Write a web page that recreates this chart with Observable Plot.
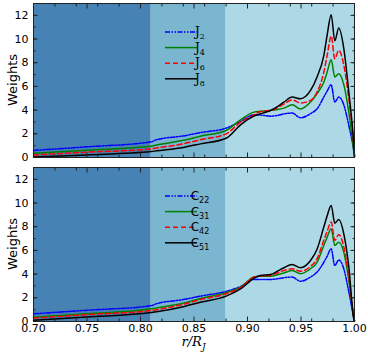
<!DOCTYPE html>
<html><head><meta charset="utf-8">
<script src="https://cdn.jsdelivr.net/npm/d3@7"></script>
<script src="https://cdn.jsdelivr.net/npm/@observablehq/plot@0.6"></script>
<style>
body{margin:0;background:#fff;font-family:"DejaVu Sans",sans-serif}
#wrap{position:relative;width:368px;height:352px}
#wrap svg{display:block;overflow:visible}
#xlab{position:absolute;left:0;width:368px;top:335px;text-align:center;font-family:"DejaVu Serif",serif;font-style:italic;font-size:13px;padding-left:19px;box-sizing:border-box;line-height:14px}
#xlab sub{font-size:9px;line-height:0}
</style>
</head><body><div id="wrap"></div>
<script>
// radius grid (r / R_J)
const rGrid = [0.70,0.75,0.81,0.815,0.84,0.856,0.88,0.8935,0.906,0.912,0.9215,0.928,0.934,0.9418,0.9495,0.9589,0.965,0.9713,0.9744,0.9782,0.9816,0.9853,0.99,0.9947,0.9994,1.0];
// top panel: zonal harmonics
const J2 = [0.6,0.9,1.32,1.5,1.82,2.1,2.48,3.04,3.6,3.58,3.49,3.55,3.68,3.75,3.35,3.7,4.1,5.1,5.6,6.14,4.68,5.1,4.45,2.7,0.5,0.1];
const J4 = [0.36,0.62,0.95,1.05,1.45,1.8,2.28,3.18,3.83,3.89,3.97,4.05,4.17,4.45,4.1,4.68,5.4,6.36,7.2,8.25,6.8,7.07,6.15,3.8,0.5,0.1];
const J6 = [0.22,0.45,0.73,0.8,1.16,1.5,2.0,2.98,3.6,3.89,3.97,4.2,4.5,4.87,4.6,4.82,5.52,7.2,8.6,10.25,8.34,9.05,7.8,4.96,0.9,0.1];
const J8 = [0.05,0.22,0.5,0.56,0.85,1.15,1.63,2.76,3.5,3.69,3.97,4.3,4.67,5.1,4.96,5.66,6.8,8.6,10.3,12.06,9.85,10.93,9.2,5.5,1.0,0.1];
// bottom panel: tesseral harmonics
const C22 = [0.65,0.95,1.33,1.5,1.85,2.14,2.54,2.95,3.55,3.55,3.55,3.6,3.7,3.75,3.4,3.75,4.17,5.0,5.5,6.14,4.73,5.2,4.45,2.5,0.3,0.05];
const C31 = [0.36,0.65,1.07,1.15,1.55,1.95,2.42,2.9,3.75,3.83,3.83,3.95,4.1,4.3,4.03,4.45,5.0,6.42,7.1,7.83,6.42,6.7,5.86,3.47,0.3,0.05];
const C42 = [0.3,0.58,0.93,1.0,1.45,1.85,2.34,2.85,3.75,3.83,3.89,4.1,4.3,4.45,4.25,4.65,5.3,6.85,7.6,8.4,6.85,7.35,6.3,3.75,0.3,0.05];
const C51 = [0.1,0.38,0.76,0.82,1.25,1.62,2.14,2.75,3.65,3.89,3.97,4.25,4.54,4.82,4.54,5.15,6.1,7.97,8.9,9.8,8.3,8.6,7.4,4.6,0.2,0.05];

const topNames = ["J2","J4","J6","J8"];
const topSubs = ["2","4","6","8"];
const botNames = ["C22","C31","C42","C51"];
const botSubs = ["22","31","42","51"];
const seriesColors = ["#0000ff","#008000","#ff0000","#000000"];
const seriesDash = ["5,1.5,1.5,1.5,1.5,1.5","none","5,3","none"];

const zoneEdges = [0.70,0.81,0.88,1.00];
const zoneColors = ["#4682b4","#7ab6d0","#add8e6"];

const xDomain = [0.70,1.00];
const yDomain = [0,13];
const xMajor = d3.range(0,7).map(i => +(0.70 + i*0.05).toFixed(2));
const xMinor = d3.range(0,16).map(i => +(0.70 + i*0.02).toFixed(2));
const yMajor = [0,2,4,6,8,10,12];
const yMinor = d3.range(0,14);

const zones = zoneColors.map((c,i) => ({x1: zoneEdges[i], x2: zoneEdges[i+1], c}));

function panel(names, arrays, subs, mainLetter, legendFont, opts) {
  const rows = [];
  names.forEach((n,k) => arrays[k].forEach((v,i) => rows.push({s:n, r:rGrid[i], v})));
  const marks = [
    Plot.rect(zones, {x1:"x1", x2:"x2", y1: yDomain[0], y2: yDomain[1], fill:"c"}),
  ];
  names.forEach((n,k) => {
    marks.push(Plot.line(rows.filter(d => d.s === n), {x:"r", y:"v", stroke: seriesColors[k], strokeWidth:1.5, strokeDasharray: seriesDash[k], curve:"monotone-x"}));
  });
  for (const a of ["bottom","top"]) {
    marks.push(Plot.axisX(xMinor, {anchor:a, tickSize:-2.5, tickFormat:()=>"", label:null, stroke:"#222"}));
    marks.push(Plot.axisX(xMajor, {anchor:a, tickSize:-4.5, tickFormat:()=>"", label:null, stroke:"#222"}));
  }
  for (const a of ["left","right"]) {
    marks.push(Plot.axisY(yMinor, {anchor:a, tickSize:-2.5, tickFormat:()=>"", label:null, stroke:"#222"}));
    marks.push(Plot.axisY(yMajor, {anchor:a, tickSize:-4.5, tickFormat:()=>"", label:null, stroke:"#222"}));
  }
  marks.push(Plot.axisY(yMajor, {anchor:"left", tickSize:0, tickPadding:5, label:null, fontSize:11}));
  if (opts.xLabels) marks.push(Plot.axisX(xMajor, {anchor:"bottom", tickSize:0, tickPadding:3, tickFormat: d3.format(".2f"), label:null, fontSize:11}));
  marks.push(Plot.frame({stroke:"#222", strokeWidth:1}));
  const svg = Plot.plot({
    width: 368, height: opts.height,
    marginLeft: 33, marginRight: 14, marginTop: opts.mt, marginBottom: opts.mb,
    style: {fontFamily:"DejaVu Sans", fontSize:"11px", background:"transparent", color:"#000", overflow:"visible"},
    x: {domain: xDomain}, y: {domain: yDomain},
    marks
  });
  const s = d3.select(svg);
  // y label
  s.append("text").attr("transform", `translate(12,${opts.mt + 77}) rotate(-90)`)
    .attr("text-anchor","middle").attr("dominant-baseline","central")
    .style("font-family","DejaVu Sans").style("font-size","13px").text("Weights");
  // legend
  const g = s.append("g");
  names.forEach((n,k) => {
    const y = opts.mt + 29 + k*15.6;
    g.append("line").attr("x1",165).attr("x2",197).attr("y1",y).attr("y2",y)
      .attr("stroke", seriesColors[k]).attr("stroke-width",1.5)
      .attr("stroke-dasharray", seriesDash[k] === "none" ? null : seriesDash[k]);
    const t = g.append("text").attr("x",200).attr("y",y+4)
      .style("font-family", legendFont).style("font-size","12px");
    t.append("tspan").text(mainLetter);
    t.append("tspan").attr("dy",3).style("font-size","8px").text(subs[k]);
  });
  return svg;
}

const wrap = document.getElementById("wrap");
wrap.appendChild(panel(topNames, [J2,J4,J6,J8], topSubs, "J", "DejaVu Serif", {height:162, mt:3, mb:5, xLabels:false}));
wrap.appendChild(panel(botNames, [C22,C31,C42,C51], botSubs, "C", "DejaVu Sans", {height:190, mt:5, mb:31, xLabels:true}));
const xl = document.createElement("div");
xl.id = "xlab";
xl.innerHTML = "r/R<sub>J</sub>";
wrap.appendChild(xl);
</script></body></html>
